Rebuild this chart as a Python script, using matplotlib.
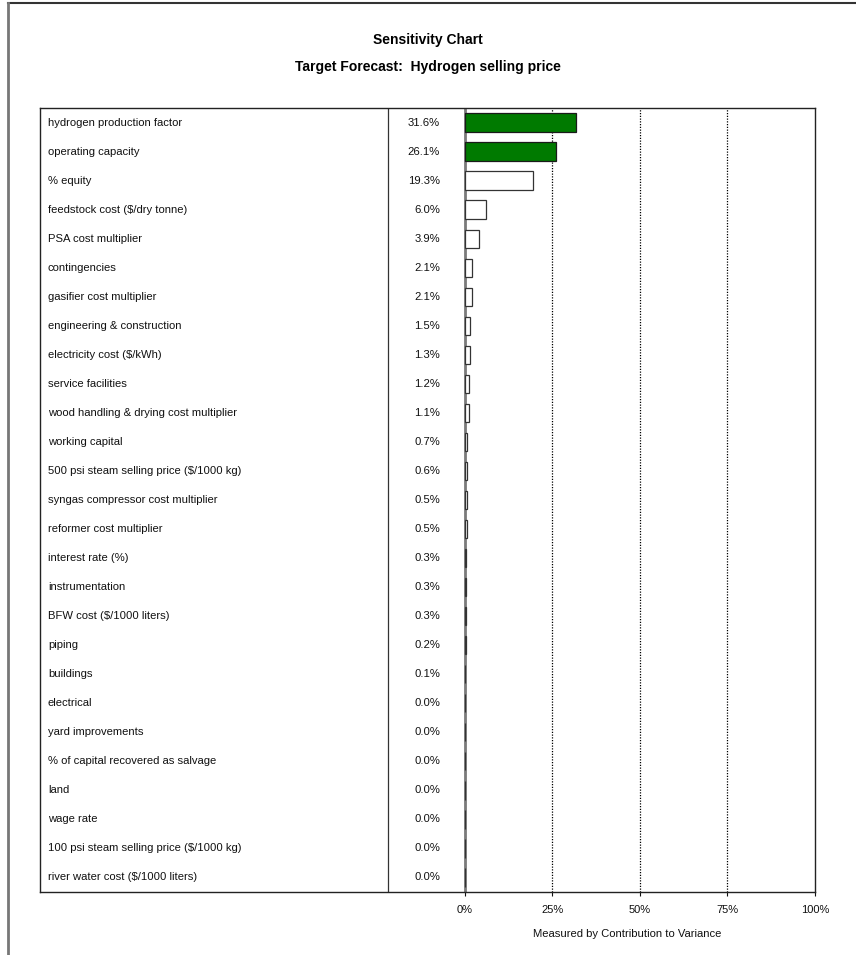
import matplotlib
matplotlib.use("Agg")
import matplotlib.pyplot as plt
from matplotlib.lines import Line2D
import numpy as np

plt.rcParams['font.family'] = ['Liberation Sans', 'DejaVu Sans']

# Assumptions ranked by contribution to variance (%)
assumptions = [
    "hydrogen production factor",
    "operating capacity",
    "% equity",
    "feedstock cost ($/dry tonne)",
    "PSA cost multiplier",
    "contingencies",
    "gasifier cost multiplier",
    "engineering & construction",
    "electricity cost ($/kWh)",
    "service facilities",
    "wood handling & drying cost multiplier",
    "working capital",
    "500 psi steam selling price ($/1000 kg)",
    "syngas compressor cost multiplier",
    "reformer cost multiplier",
    "interest rate (%)",
    "instrumentation",
    "BFW cost ($/1000 liters)",
    "piping",
    "buildings",
    "electrical",
    "yard improvements",
    "% of capital recovered as salvage",
    "land",
    "wage rate",
    "100 psi steam selling price ($/1000 kg)",
    "river water cost ($/1000 liters)",
]
contribution = [31.6, 26.1, 19.3, 6.0, 3.9, 2.1, 2.1, 1.5, 1.3, 1.2, 1.1,
                0.7, 0.6, 0.5, 0.5, 0.3, 0.3, 0.3, 0.2, 0.1,
                0.0, 0.0, 0.0, 0.0, 0.0, 0.0, 0.0]
highlighted = [True, True] + [False] * 25
x_ticks = [0, 25, 50, 75, 100]
x_ticklabels = ["0%", "25%", "50%", "75%", "100%"]

W, H = 856, 955
fig = plt.figure(figsize=(W / 100, H / 100), dpi=100)

# pixel layout of the framed table
box_l, box_r, box_t, box_b = 40, 815, 108, 892
zero_px = 465
scale = (box_r - zero_px) / 100.0
xmin = (box_l - zero_px) / scale

ax = fig.add_axes([box_l / W, 1 - box_b / H, (box_r - box_l) / W, (box_b - box_t) / H])
n = len(assumptions)
y = np.arange(n)
ax.set_xlim(xmin, 100)
ax.set_ylim(n - 0.5, -0.5)

def px_to_data(px):
    return (px - zero_px) / scale

# dotted reference lines
for t in x_ticks[1:-1]:
    ax.axvline(t, color="black", ls=(0, (1, 1.2)), lw=0.9, zorder=1)
ax.axvline(0, color="#7a7a7a", lw=2.0, zorder=2)

colors = ["#007A00" if h else "white" for h in highlighted]
edges = ["#1a1a1a" if h else "#333333" for h in highlighted]
ax.barh(y, contribution, height=0.63, left=0, color=colors, edgecolor=edges,
        linewidth=0.9, zorder=3)

# divider between names and values
ax.axvline(px_to_data(388), color="#333333", lw=0.9)

for yi, name, val in zip(y, assumptions, contribution):
    ax.text(px_to_data(48), yi, name, ha="left", va="center", fontsize=8.1,
            color="#111111")
    ax.text(px_to_data(440), yi, f"{val:.1f}%", ha="right", va="center",
            fontsize=8.1, color="#111111")

for s in ax.spines.values():
    s.set_color("#222222")
    s.set_linewidth(1.0)

ax.set_yticks([])
ax.set_xticks(x_ticks)
ax.set_xticklabels(x_ticklabels, fontsize=8)
ax.tick_params(axis="x", direction="out", length=3, width=0.8, pad=6, colors="#111111")

fig.text(627 / W, 1 - 934 / H, "Measured by Contribution to Variance",
         ha="center", va="center", fontsize=8.1, color="#111111")

fig.text(428 / W, 1 - 40 / H, "Sensitivity Chart", ha="center", va="center",
         fontsize=10, fontweight="bold")
fig.text(428 / W, 1 - 67 / H, "Target Forecast:  Hydrogen selling price",
         ha="center", va="center", fontsize=10, fontweight="bold")

# page frame
fig.add_artist(Line2D([8 / W, 1], [1 - 3.5 / H, 1 - 3.5 / H], transform=fig.transFigure,
                      color="#333333", lw=1.5))
fig.add_artist(Line2D([8 / W, 8 / W], [0, 1 - 3.5 / H], transform=fig.transFigure,
                      color="#777777", lw=2))

fig.savefig("out.png", dpi=100)
